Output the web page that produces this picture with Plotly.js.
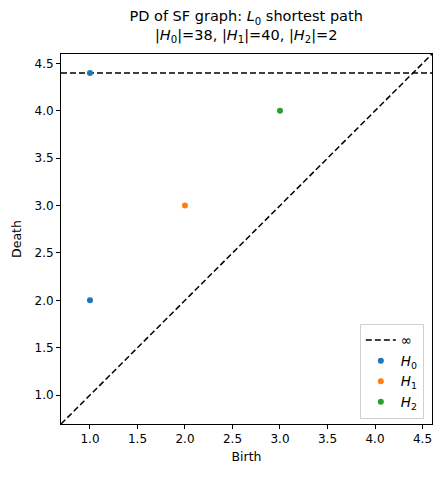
<!DOCTYPE html>
<html>
<head>
<meta charset="utf-8">
<script src="https://cdn.plot.ly/plotly-3.0.1.min.js"></script>
<style>html,body{margin:0;padding:0;background:#fff;}</style>
</head>
<body>
<div id="chart" style="width:442px;height:477px;"></div>
<script>
// Persistence diagram points (birth, death) per homology dimension
const h0Birth = [1.0, 1.0];
const h0Death = [2.0, 4.4];
const h1Birth = [2.0];
const h1Death = [3.0];
const h2Birth = [3.0];
const h2Death = [4.0];
// Death value used for infinite bars
const infValue = 4.4;
// Shared axis limits
const axisRange = [0.695, 4.6];
const tickVals = [1.0, 1.5, 2.0, 2.5, 3.0, 3.5, 4.0, 4.5];

const font = {family: 'DejaVu Sans, sans-serif', color: '#000'};

const traces = [
  {
    x: axisRange, y: axisRange, mode: 'lines', showlegend: false,
    line: {color: '#000', dash: '6px,3px', width: 1.5}, hoverinfo: 'skip'
  },
  {
    x: axisRange, y: [infValue, infValue], mode: 'lines', name: '∞',
    line: {color: '#000', dash: '6px,3px', width: 1.5}
  },
  {
    x: h0Birth, y: h0Death, mode: 'markers', name: '<i>H</i><sub>0</sub>',
    marker: {color: '#1f77b4', size: 6}
  },
  {
    x: h1Birth, y: h1Death, mode: 'markers', name: '<i>H</i><sub>1</sub>',
    marker: {color: '#ff7f0e', size: 6}
  },
  {
    x: h2Birth, y: h2Death, mode: 'markers', name: '<i>H</i><sub>2</sub>',
    marker: {color: '#2ca02c', size: 6}
  }
];

const axisCommon = {
  range: axisRange, tickvals: tickVals, tickformat: '.1f',
  showgrid: false, zeroline: false, showline: true, mirror: true,
  linecolor: '#000', linewidth: 1, ticks: 'outside', ticklen: 4,
  tickcolor: '#000', tickfont: {family: font.family, size: 12, color: '#000'}
};

const layout = {
  width: 442, height: 477,
  margin: {l: 61, r: 10, t: 54, b: 53},
  paper_bgcolor: '#fff', plot_bgcolor: '#fff',
  font: font,
  title: {
    text: 'PD of SF graph: <i>L</i><sub>0</sub> shortest path<br>|<i>H</i><sub>0</sub>|=38, |<i>H</i><sub>1</sub>|=40, |<i>H</i><sub>2</sub>|=2',
    font: {family: font.family, size: 14.5, color: '#000'},
    x: 0.557, xanchor: 'center', y: 0.955, yanchor: 'top'
  },
  xaxis: Object.assign({}, axisCommon, {
    title: {text: 'Birth', font: {family: font.family, size: 12.5, color: '#000'}, standoff: 6}
  }),
  yaxis: Object.assign({}, axisCommon, {
    title: {text: 'Death', font: {family: font.family, size: 12.5, color: '#000'}, standoff: 10}
  }),
  legend: {
    x: 0.978, xanchor: 'right', y: 0.014, yanchor: 'bottom',
    bgcolor: 'rgba(255,255,255,0.8)', bordercolor: '#d0d0d0', borderwidth: 1,
    font: {family: font.family, size: 13.5, color: '#000'},
    itemwidth: 30, tracegroupgap: 2
  }
};

Plotly.newPlot('chart', traces, layout, {displayModeBar: false, staticPlot: true});
</script>
</body>
</html>
